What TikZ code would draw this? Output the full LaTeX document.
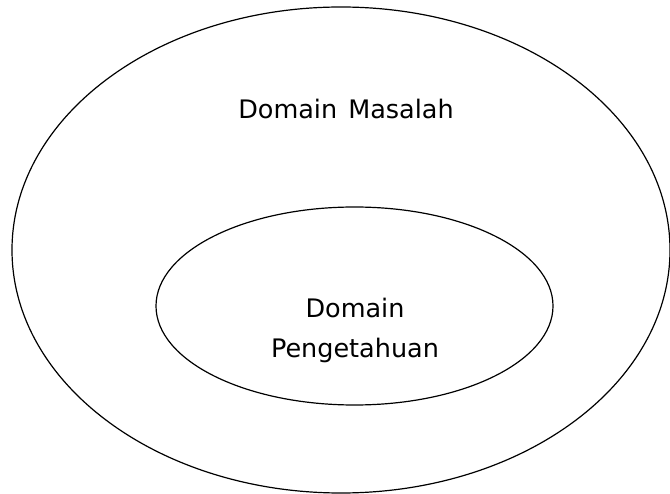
\documentclass[tikz,border=0pt]{standalone}
\usepackage{fontspec}
\setmainfont{DejaVu Sans}
\usetikzlibrary{shapes.geometric}
\begin{document}
\begin{tikzpicture}[x=1pt, y=-1pt,
  ring/.style={ellipse, draw=black, line width=1.2pt, inner sep=0pt, outer sep=0pt},
  caption/.style={font=\fontsize{25.5}{40}\selectfont, inner sep=0pt, anchor=base}]
  \useasboundingbox (0,0) rectangle (670,494);
  % outer domain
  \node[ring, minimum width=658pt, minimum height=486pt] (outer) at (341,250) {};
  % inner domain
  \node[ring, minimum width=397pt, minimum height=198pt] (inner) at (354.5,306) {};
  % captions
  \node[caption] (masalah) at (346,119) {Domain\hspace{3pt} Masalah};
  \node[caption] (domain2) at (355,318) {Domain};
  \node[caption] (pengetahuan) at (355,358) {Pengetahuan};
\end{tikzpicture}
\end{document}
